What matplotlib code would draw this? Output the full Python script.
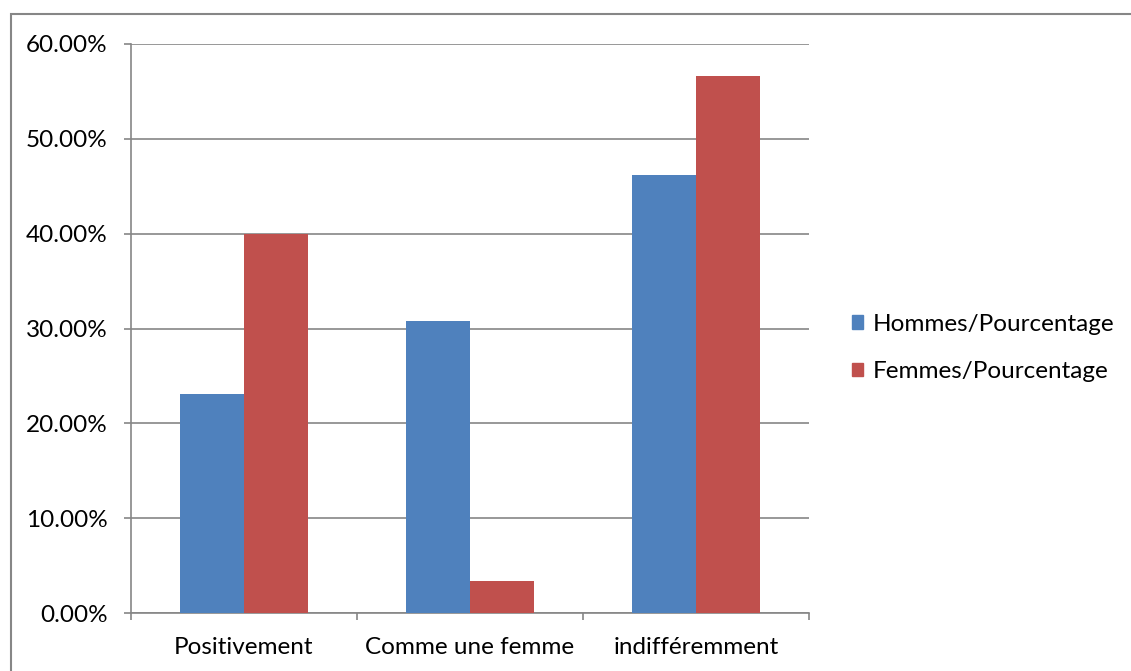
import matplotlib.pyplot as plt
import numpy as np
from matplotlib.patches import Rectangle, Patch
from matplotlib.ticker import FuncFormatter, MultipleLocator

plt.rcParams['font.family'] = ['Lato', 'DejaVu Sans']

# données
categories = ["Positivement", "Comme une femme", "indifféremment"]
hommes = [23.08, 30.77, 46.15]
femmes = [40.00, 3.33, 56.67]
series_names = ["Hommes/Pourcentage", "Femmes/Pourcentage"]

BLUE = "#4F81BD"
RED = "#C0504D"
GRAY = "#868686"
FS = 17.5

fig = plt.figure(figsize=(11.31, 6.71), dpi=100)
fig.patch.set_facecolor("white")

# cadre du graphique
fig.patches.append(Rectangle((11 / 1131, -0.2), 1.5, 1.2 - 14 / 671,
                             transform=fig.transFigure, fill=False,
                             edgecolor=GRAY, linewidth=1.5, zorder=0))

ax = fig.add_axes([131 / 1131, 58 / 671, 678 / 1131, 569 / 671])

x = np.arange(len(categories))
w = 64 / 226
ax.bar(x - w / 2, hommes, w, color=BLUE, zorder=3)
ax.bar(x + w / 2, femmes, w, color=RED, zorder=3)

ax.set_xlim(-0.5, 2.5)
ax.set_ylim(0, 60)
ax.yaxis.set_major_locator(MultipleLocator(10))
ax.yaxis.set_major_formatter(FuncFormatter(lambda v, p: f"{v:.2f}%"))
ax.grid(axis="y", color=GRAY, linewidth=1.2, zorder=0)

ax.set_xticks(x)
ax.set_xticklabels(categories)
ax.set_xticks(np.arange(-0.5, 3, 1), minor=True)
ax.tick_params(axis="x", which="major", length=0, pad=17, labelsize=FS)
ax.tick_params(axis="x", which="minor", length=5, width=1.2, color=GRAY)
ax.tick_params(axis="y", length=5, width=1.2, color=GRAY, pad=12, labelsize=FS)

for side in ["top", "right"]:
    ax.spines[side].set_visible(False)
for side in ["left", "bottom"]:
    ax.spines[side].set_color(GRAY)
    ax.spines[side].set_linewidth(1.2)

handles = [Patch(color=BLUE), Patch(color=RED)]
fig.legend(handles, series_names, loc="center left",
           bbox_to_anchor=(830 / 1131, (671 - 348) / 671), frameon=False,
           fontsize=FS, handlelength=0.45, handleheight=0.45,
           handletextpad=0.4, labelspacing=1.1)

fig.savefig("out.png", dpi=100)
